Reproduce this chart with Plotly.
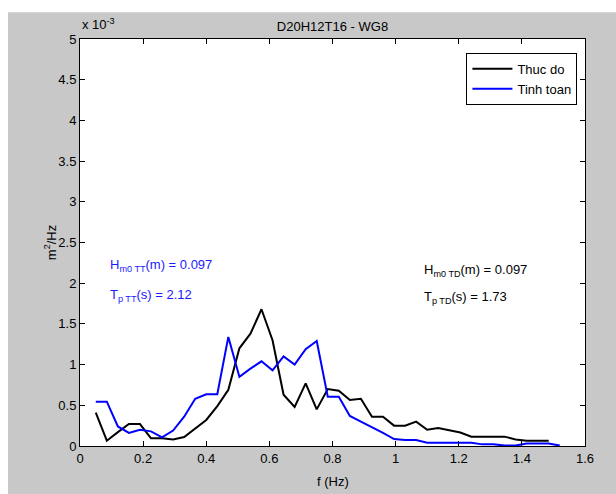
import plotly.graph_objects as go

# Spectral density, units of 1e-3 m^2/Hz
freq = [0.05, 0.085, 0.12, 0.155, 0.19, 0.225, 0.26, 0.295, 0.33, 0.365,
        0.40, 0.435, 0.47, 0.505, 0.54, 0.575, 0.61, 0.645, 0.68, 0.715,
        0.75, 0.785, 0.82, 0.855, 0.89, 0.925, 0.96, 0.995, 1.03, 1.065,
        1.10, 1.135, 1.17, 1.205, 1.24, 1.275, 1.31, 1.345, 1.38, 1.415,
        1.45, 1.485, 1.52]

thuc_do = [0.41, 0.065, 0.17, 0.27, 0.27, 0.095, 0.095, 0.08, 0.11, 0.22,
           0.32, 0.49, 0.69, 1.20, 1.38, 1.68, 1.30, 0.63, 0.48, 0.77,
           0.45, 0.70, 0.68, 0.565, 0.58, 0.36, 0.36, 0.25, 0.25, 0.30,
           0.20, 0.22, 0.19, 0.165, 0.115, 0.115, 0.115, 0.115, 0.08, 0.065,
           0.065, 0.065]

tinh_toan = [0.545, 0.545, 0.24, 0.16, 0.20, 0.18, 0.105, 0.19, 0.36, 0.58,
             0.635, 0.635, 1.34, 0.85, 0.95, 1.04, 0.93, 1.10, 1.00, 1.19,
             1.29, 0.605, 0.605, 0.37, 0.30, 0.235, 0.16, 0.085, 0.074, 0.074,
             0.04, 0.04, 0.04, 0.04, 0.04, 0.02, 0.02, 0.005, 0.005, 0.03,
             0.03, 0.03, 0.005]

x_ticks = [0, 0.2, 0.4, 0.6, 0.8, 1, 1.2, 1.4, 1.6]
y_ticks = [0, 0.5, 1, 1.5, 2, 2.5, 3, 3.5, 4, 4.5, 5]

FONT = "Liberation Sans Narrow, Liberation Sans, Arial, sans-serif"
GRAY = "#c8c8c8"

fig = go.Figure()
fig.add_trace(go.Scatter(x=freq[:len(thuc_do)], y=thuc_do, mode="lines",
                         name="Thuc do", line=dict(color="black", width=2)))
fig.add_trace(go.Scatter(x=freq, y=tinh_toan, mode="lines",
                         name="Tinh toan", line=dict(color="#0000ff", width=2)))

axis_common = dict(showline=True, linecolor="black", linewidth=1, mirror="ticks",
                   ticks="inside", ticklen=5, tickcolor="black", showgrid=False,
                   zeroline=False, automargin=False,
                   tickfont=dict(family=FONT, size=13, color="black"))

fig.update_xaxes(range=[0, 1.6], tickvals=x_ticks,
                 ticktext=[f"{v:g}" for v in x_ticks], **axis_common)
fig.update_yaxes(range=[0, 5], tickvals=y_ticks,
                 ticktext=[f"{v:g}" for v in y_ticks], **axis_common)

label_font = dict(family=FONT, size=13, color="black")
annotations = [
    # axis titles
    dict(text="f (Hz)", x=0.5, y=-0.086, xref="paper", yref="paper",
         xanchor="center", yanchor="middle", showarrow=False, font=label_font),
    dict(text="m<sup>2</sup>/Hz", x=-0.06, y=0.5, xref="paper", yref="paper",
         xanchor="center", yanchor="middle", textangle=-90, showarrow=False,
         font=label_font),
    # exponent marker of the y axis
    dict(text="x 10<sup>-3</sup>", x=0.0, y=1.012, xref="paper", yref="paper",
         xanchor="left", yanchor="bottom", showarrow=False, font=label_font),
    # wave parameters
    dict(text="H<sub>m0 TT</sub>(m) = 0.097", x=0.088, y=2.22, xref="x", yref="y",
         xanchor="left", yanchor="middle", showarrow=False,
         font=dict(family=FONT, size=13, color="#1a1aff")),
    dict(text="T<sub>p TT</sub>(s) = 2.12", x=0.088, y=1.85, xref="x", yref="y",
         xanchor="left", yanchor="middle", showarrow=False,
         font=dict(family=FONT, size=13, color="#1a1aff")),
    dict(text="H<sub>m0 TD</sub>(m) = 0.097", x=1.085, y=2.15, xref="x", yref="y",
         xanchor="left", yanchor="middle", showarrow=False, font=label_font),
    dict(text="T<sub>p TD</sub>(s) = 1.73", x=1.085, y=1.83, xref="x", yref="y",
         xanchor="left", yanchor="middle", showarrow=False, font=label_font),
]

shapes = [
    # white strips along the top and left edges of the figure window
    dict(type="rect", xref="paper", yref="paper", x0=-0.2, x1=1.2, y0=1.066, y1=1.2,
         fillcolor="white", line=dict(width=0), layer="above"),
    dict(type="rect", xref="paper", yref="paper", x0=-0.2, x1=-0.1426, y0=-0.2, y1=1.2,
         fillcolor="white", line=dict(width=0), layer="above"),
]

fig.update_layout(
    width=616, height=494,
    margin=dict(l=80, r=31, t=39, b=48, autoexpand=False),
    paper_bgcolor=GRAY, plot_bgcolor="white",
    title=dict(text="D20H12T16 - WG8", x=0.5, xanchor="center", xref="paper",
               y=1.0, yref="paper", yanchor="bottom", pad=dict(b=8),
               font=dict(family=FONT, size=13, color="black")),
    legend=dict(x=0.985, y=0.966, xanchor="right", yanchor="top",
                bgcolor="white", bordercolor="black", borderwidth=1,
                font=dict(family=FONT, size=13, color="black"),
                tracegroupgap=0, itemwidth=40),
    annotations=annotations,
    shapes=shapes,
    showlegend=True,
)

fig.write_html("out.html")
